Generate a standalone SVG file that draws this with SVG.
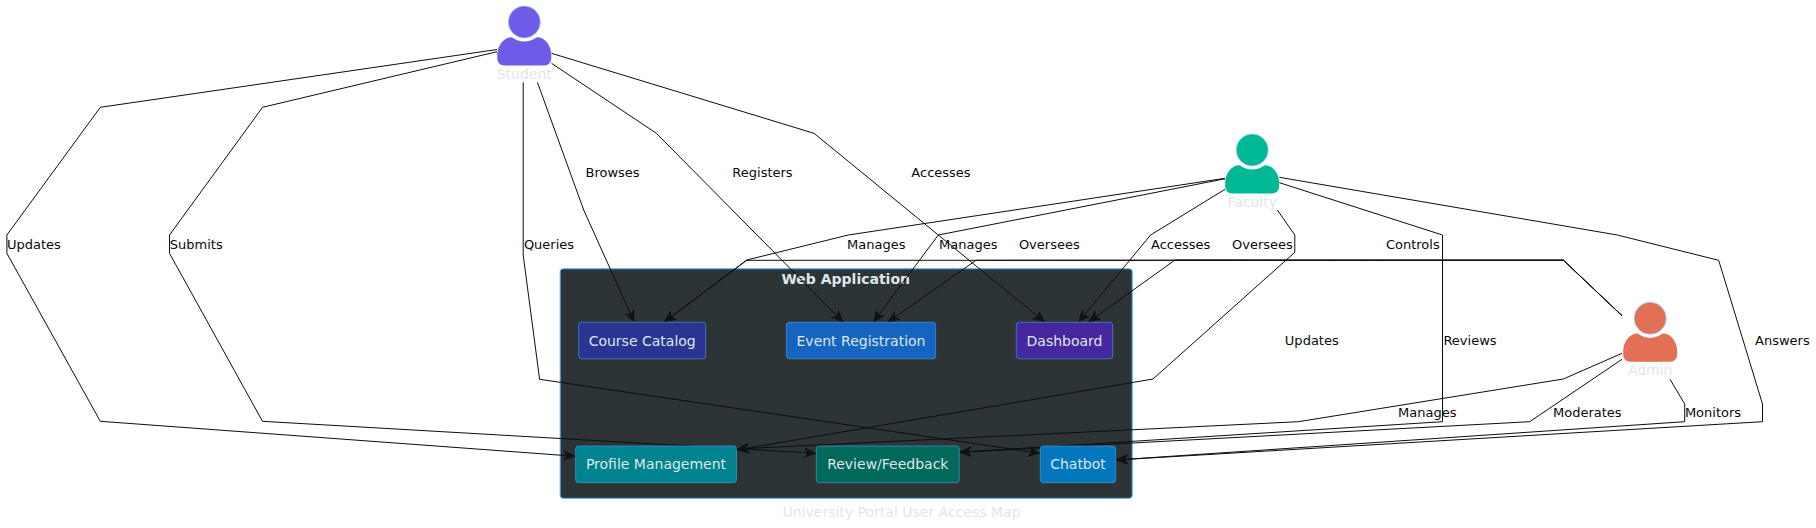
<svg xmlns="http://www.w3.org/2000/svg" width="1816" height="528" viewBox="0 0 1816 528">
<style>
text{font-family:"DejaVu Sans",Verdana,sans-serif;text-anchor:middle}
.cl{fill:#2d3436;stroke:#4dabf7;stroke-width:1}
.ct{font-size:14px;font-weight:bold;fill:#dfe6e9}
.n rect{stroke:#4dabf7;stroke-opacity:.55;stroke-width:1}
.n text{font-size:14px;fill:#dfe6e9}
.a text,.title{font-size:14px;fill:#dfe6e9}
.a path,.a circle{stroke:#a5c8f5;stroke-width:.8}
.e polyline{fill:none;stroke:#0d0d0d;stroke-width:1;marker-end:url(#arrow)}
.l text{font-size:13px;fill:#0a0a0a}
</style>
<defs>
<marker id="arrow" markerUnits="userSpaceOnUse" markerWidth="14" markerHeight="14" viewBox="0 0 14 14" refX="13" refY="7" orient="auto">
<path d="M0.500 1.500L13 7L0.500 12.500L4 7Z" fill="#111"/>
</marker>
<path id="body" d="M-27 33C-27 23 -20 15.300 -13 15.300L-12 15.500A19.700 19.700 0 0 0 12 15.500L13 15.300C20 15.300 27 23 27 33V36C27 40.500 24 43.500 20 43.500H-20C-24 43.500 -27 40.500 -27 36Z"/>
</defs>
<g id="web-application">
<rect class="cl" x="560.200" y="268.800" width="572" height="229.500" rx="3"/>
<text class="ct" x="845.700" y="283.500">Web Application</text>
</g>
<g id="connectors">
<g class="e">
<polyline points="497,49.500 100.300,107.300 6.900,235 6.900,253.300 100.300,421.300 575.600,456.300"/>
<polyline points="497,51.700 262.500,107.300 169.500,235 169.500,253.300 262.500,421.300 816.300,453.300"/>
<polyline points="523.200,82.300 523.200,255 539.600,379.300 1040.300,453.300"/>
<polyline points="537.400,82.300 583.700,210 634.300,322.300"/>
<polyline points="551.500,63.300 656.400,133.300 843.300,322.300"/>
<polyline points="551.500,53.300 814,133.300 1045,322.300"/>
<polyline points="1225,178.300 848.300,235 746.700,260 664,322.300"/>
<polyline points="1225,178.800 938.300,235 873.300,322.300"/>
<polyline points="1225,189.300 1150.600,235 1078.300,322.300"/>
<polyline points="1277.400,210 1294.800,235 1294.800,252.300 1153,379 736.500,450"/>
<polyline points="1279.400,182.700 1442.500,235 1442.500,421.700 959.300,452.300"/>
<polyline points="1279.400,177.300 1617.300,235 1718.700,260.300 1762.500,404 1762.500,421.700 1115.700,460"/>
<polyline points="1622,315.700 1563.400,260.300 746.700,260.300 664,322.300"/>
<polyline points="1622,315.700 1563.400,260 976,260.300 887.700,322.300"/>
<polyline points="1622,315.700 1563.400,260.300 1175,260 1088.300,322.300"/>
<polyline points="1622,353.300 1563.400,379 1298.500,421.700 736.500,449"/>
<polyline points="1622,359.300 1529.700,421.700 959.300,452.300"/>
<polyline points="1670,379.300 1684.700,404 1684.700,421.700 1115.700,460"/>
</g>
<g class="l">
<text x="33.900" y="249">Updates</text>
<text x="196.300" y="249">Submits</text>
<text x="549" y="249">Queries</text>
<text x="612.600" y="177">Browses</text>
<text x="762.500" y="177">Registers</text>
<text x="941" y="177">Accesses</text>
<text x="876.300" y="249">Manages</text>
<text x="968.300" y="249">Manages</text>
<text x="1049.300" y="249">Oversees</text>
<text x="1180.700" y="249">Accesses</text>
<text x="1262.400" y="249">Oversees</text>
<text x="1412.800" y="249">Controls</text>
<text x="1311.800" y="345">Updates</text>
<text x="1470" y="345">Reviews</text>
<text x="1782.400" y="345">Answers</text>
<text x="1427.300" y="417">Manages</text>
<text x="1587.300" y="417">Moderates</text>
<text x="1713" y="417">Monitors</text>
</g>
</g>
<g id="course-catalog" class="n"><rect x="578.700" y="322.300" width="127" height="36.500" rx="3" fill="#283593"/><text x="642.200" y="345.500">Course Catalog</text></g>
<g id="event-registration" class="n"><rect x="786.300" y="322.300" width="149.400" height="36.500" rx="3" fill="#1565c0"/><text x="861" y="345.500">Event Registration</text></g>
<g id="dashboard" class="n"><rect x="1016.300" y="322.300" width="96.400" height="36.500" rx="3" fill="#4527a0"/><text x="1064.500" y="345.500">Dashboard</text></g>
<g id="profile-management" class="n"><rect x="575.600" y="446" width="160.900" height="36.700" rx="3" fill="#00838f"/><text x="656" y="469.300">Profile Management</text></g>
<g id="review-feedback" class="n"><rect x="816.300" y="446" width="143" height="36.700" rx="3" fill="#00695c"/><text x="887.800" y="469.300">Review/Feedback</text></g>
<g id="chatbot" class="n"><rect x="1040.300" y="446" width="75.400" height="36.700" rx="3" fill="#0277bd"/><text x="1078" y="469.300">Chatbot</text></g>
<g id="student" class="a" fill="#6c5ce7"><circle cx="524.300" cy="22" r="16"/><use href="#body" x="524.300" y="22"/><text x="524.300" y="79">Student</text></g>
<g id="faculty" class="a" fill="#00b894"><circle cx="1252.200" cy="150" r="16"/><use href="#body" x="1252.200" y="150"/><text x="1252.200" y="207">Faculty</text></g>
<g id="admin" class="a" fill="#e17055"><circle cx="1650.200" cy="318.300" r="16"/><use href="#body" x="1650.200" y="318.300"/><text x="1650.200" y="375.300">Admin</text></g>
<text class="title" x="901.500" y="517">University Portal User Access Map</text>
</svg>
